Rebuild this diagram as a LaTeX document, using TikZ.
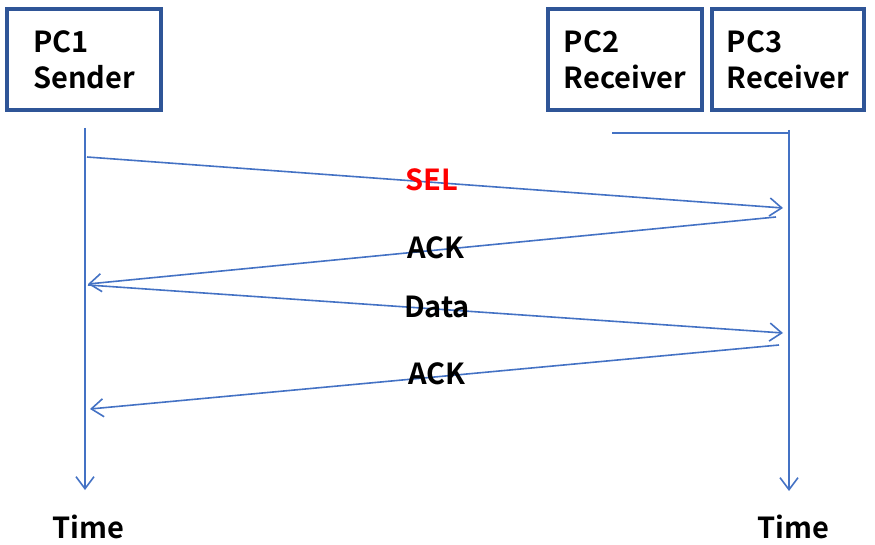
\documentclass[tikz,border=0pt]{standalone}
\usepackage{fontspec}
\setmainfont{Noto Sans CJK TC}[BoldFont={* Bold}]
\usetikzlibrary{arrows.meta,positioning}
\definecolor{boxblue}{HTML}{2F5597}
\definecolor{lineblue}{HTML}{4472C4}
\definecolor{selred}{HTML}{FF0000}

\begin{document}
\begin{tikzpicture}[x=1pt, y=-1pt,
  pcbox/.style={rectangle, draw=boxblue, line width=4pt,
                minimum width=#1, minimum height=101pt, inner sep=0pt,
                align=left, font=\fontsize{29}{36}\selectfont\bfseries},
  pcbox/.default={154pt},
  msg/.style={-{Straight Barb[length=12pt, width=18pt, line width=1.6pt]},
              draw=lineblue, line width=1.6pt},
  life/.style={msg},
  lbl/.style={font=\fontsize{29}{36}\selectfont\bfseries, inner sep=0pt},
]
  \useasboundingbox (0,0) rectangle (875,545);

  % Stations
  \node[pcbox] (pc1) at (84,59.5) {PC1\\Sender};
  \node[pcbox] (pc2) at (625,59.5) {PC2\\Receiver};
  \node[pcbox=152pt] (pc3) at (788,59.5) {PC3\\Receiver};

  % Time lines
  \coordinate (top1) at (85,128);
  \coordinate (bot1) at (85,490);
  \coordinate (top3) at (789,130);
  \coordinate (bot3) at (789,491);
  \coordinate (tee) at (612,133);
  \coordinate (teeend) at (789,133);

  \draw[life] (top1) -- (bot1);
  \draw[life] (top3) -- (bot3);
  \draw[draw=lineblue, line width=1.3pt] (tee) -- (teeend);

  \node[lbl] (time1) at (88,527) {Time};
  \node[lbl] (time3) at (793,527) {Time};

  % Messages
  \coordinate (selfrom) at (87,157);
  \coordinate (selto) at (783,208);
  \coordinate (ackfrom) at (776,217);
  \coordinate (ackto) at (88,284);
  \coordinate (datafrom) at (88,285);
  \coordinate (datato) at (783,333);
  \coordinate (acktwofrom) at (779,345);
  \coordinate (acktwoto) at (90,409);

  \draw[msg] (selfrom) -- (selto);
  \draw[msg] (ackfrom) -- (ackto);
  \draw[msg] (datafrom) -- (datato);
  \draw[msg] (acktwofrom) -- (acktwoto);

  % Labels
  \node[lbl, text=selred] (sel) at (432,180) {SEL};
  \node[lbl] (ack) at (436,248) {ACK};
  \node[lbl] (data) at (437,307) {Data};
  \node[lbl] (acktwo) at (437,374) {ACK};
\end{tikzpicture}
\end{document}
